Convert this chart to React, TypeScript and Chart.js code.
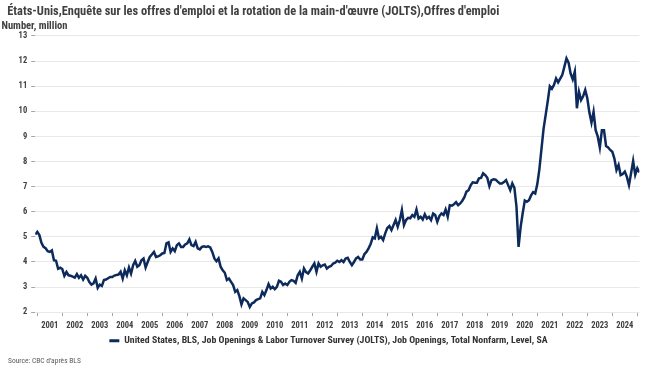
import React, { useEffect, useRef } from 'react';
import { Chart, registerables } from 'chart.js';

Chart.register(...registerables);

const FONT = "'Roboto Condensed', 'DejaVu Sans Condensed', sans-serif";

const titleText = "  États-Unis,Enquête sur les offres d'emploi et la rotation de la main-d'œuvre (JOLTS),Offres d'emploi";
const unitText = 'Number, million';
const sourceText = "Source: CBC d'après BLS";
const seriesLabel =
  'United States, BLS, Job Openings & Labor Turnover Survey (JOLTS), Job Openings, Total Nonfarm, Level, SA';

// tick labels
const yearLabels = [
  2001, 2002, 2003, 2004, 2005, 2006, 2007, 2008, 2009, 2010, 2011, 2012,
  2013, 2014, 2015, 2016, 2017, 2018, 2019, 2020, 2021, 2022, 2023, 2024,
];
const yMin = 2;
const yMax = 13;

// monthly values (millions); 2000 holds December only, 2025 holds Jan-Feb
const v2000 = [5.1];
const v2001 = [5.2, 5.07, 4.76, 4.6, 4.55, 4.43, 4.4, 4.46, 4.07, 4.05, 3.73, 3.77];
const v2002 = [3.72, 3.45, 3.6, 3.47, 3.45, 3.42, 3.38, 3.52, 3.37, 3.47, 3.3, 3.45];
const v2003 = [3.37, 3.2, 3.1, 3.15, 3.34, 2.97, 3.1, 3.05, 3.28, 3.3, 3.35, 3.4];
const v2004 = [3.4, 3.46, 3.48, 3.5, 3.61, 3.34, 3.67, 3.47, 3.78, 3.54, 3.87, 4.04];
const v2005 = [3.81, 3.87, 4.07, 4.14, 3.78, 4.0, 4.2, 4.3, 4.4, 4.2, 4.22, 4.27];
const v2006 = [4.34, 4.36, 4.74, 4.78, 4.4, 4.54, 4.43, 4.67, 4.74, 4.6, 4.6, 4.7];
const v2007 = [4.74, 4.9, 4.67, 4.63, 4.8, 4.54, 4.5, 4.6, 4.62, 4.6, 4.62, 4.58];
const v2008 = [4.4, 4.14, 4.03, 4.14, 3.81, 3.67, 3.57, 3.28, 3.34, 3.21, 3.08, 2.81];
const v2009 = [2.88, 2.64, 2.31, 2.55, 2.48, 2.41, 2.21, 2.35, 2.39, 2.48, 2.52, 2.55];
const v2010 = [2.81, 2.68, 2.88, 3.12, 2.94, 3.01, 2.92, 3.01, 3.25, 3.21, 3.08, 3.14];
const v2011 = [3.08, 3.21, 3.28, 3.25, 3.17, 3.47, 3.61, 3.34, 3.74, 3.6, 3.54, 3.67];
const v2012 = [3.81, 3.94, 3.61, 3.94, 3.81, 3.87, 3.9, 3.74, 3.81, 3.84, 3.94, 3.97];
const v2013 = [4.05, 4.0, 4.07, 4.0, 4.14, 4.17, 4.0, 3.87, 4.0, 4.14, 4.2, 4.1];
const v2014 = [4.1, 4.31, 4.4, 4.54, 4.71, 4.98, 4.94, 5.34, 4.94, 5.0, 4.87, 5.14];
const v2015 = [5.35, 5.43, 5.27, 5.47, 5.67, 5.4, 5.67, 6.07, 5.47, 5.67, 5.76, 5.74];
const v2016 = [5.87, 5.8, 6.09, 5.73, 5.8, 5.69, 5.9, 5.73, 5.8, 5.67, 5.93, 5.87];
const v2017 = [5.6, 5.83, 5.93, 5.87, 6.09, 5.8, 6.26, 6.24, 6.3, 6.38, 6.26, 6.33];
const v2018 = [6.44, 6.58, 6.8, 6.86, 7.05, 7.17, 7.16, 7.16, 7.33, 7.35, 7.53, 7.46];
const v2019 = [7.35, 7.02, 7.26, 7.29, 7.28, 7.2, 7.13, 7.13, 7.18, 7.26, 7.06, 6.86];
const v2020 = [7.13, 6.95, 6.2, 4.6, 5.4, 5.95, 6.45, 6.4, 6.46, 6.65, 6.78, 6.73];
const v2021 = [7.1, 7.7, 8.5, 9.3, 9.85, 10.4, 11.0, 10.9, 11.05, 11.31, 11.15, 11.3];
const v2022 = [11.45, 11.78, 12.11, 11.94, 11.5, 11.27, 11.58, 10.12, 10.78, 10.45, 10.6, 10.85];
const v2023 = [10.52, 9.95, 9.55, 9.98, 9.25, 9.0, 8.56, 9.25, 9.25, 8.62, 8.56, 8.46];
const v2024 = [8.39, 8.12, 7.66, 7.86, 7.46, 7.5, 7.6, 7.39, 7.06, 7.53, 8.02, 7.47];
const v2025 = [7.73, 7.57];

const byYear: [number, number[]][] = [
  [2000, v2000], [2001, v2001], [2002, v2002], [2003, v2003], [2004, v2004],
  [2005, v2005], [2006, v2006], [2007, v2007], [2008, v2008], [2009, v2009],
  [2010, v2010], [2011, v2011], [2012, v2012], [2013, v2013], [2014, v2014],
  [2015, v2015], [2016, v2016], [2017, v2017], [2018, v2018], [2019, v2019],
  [2020, v2020], [2021, v2021], [2022, v2022], [2023, v2023], [2024, v2024],
  [2025, v2025],
];

function buildPoints() {
  const pts: { x: number; y: number }[] = [];
  byYear.forEach(([year, vals], idx) => {
    const startMonth = idx === 0 ? 12 - vals.length : 0;
    vals.forEach((v, i) => {
      pts.push({ x: year + (startMonth + i) / 12, y: v });
    });
  });
  return pts;
}

const NAVY = '#0c2a5b';
const TEXT = '#404040';

const sourcePlugin = {
  id: 'sourceNote',
  afterLayout(chart: any) {
    // centre the legend a little to the right, like the original
    if (chart.legend) {
      chart.legend.left += 16;
    }
  },
  afterDraw(chart: any) {
    const ctx = chart.ctx;
    ctx.save();
    ctx.font = `7.5px ${FONT}`;
    ctx.fillStyle = '#595959';
    ctx.textBaseline = 'middle';
    ctx.textAlign = 'left';
    ctx.fillText(sourceText, 8, 361);
    ctx.restore();
  },
};

export default function App() {
  const ref = useRef<HTMLCanvasElement | null>(null);

  useEffect(() => {
    if (!ref.current) return;
    const points = buildPoints();
    const xMin = points[0].x;
    const xMax = points[points.length - 1].x;

    const chart = new Chart(ref.current, {
      type: 'line',
      data: {
        datasets: [
          {
            label: seriesLabel,
            data: points,
            borderColor: NAVY,
            backgroundColor: NAVY,
            borderWidth: 2.5,
            pointRadius: 0,
            tension: 0,
            fill: false,
          },
        ],
      },
      plugins: [sourcePlugin],
      options: {
        animation: false,
        responsive: false,
        devicePixelRatio: 1,
        layout: { padding: { left: 1.5, right: 12.6, top: 0, bottom: 16.4 } },
        font: { family: FONT },
        scales: {
          x: {
            type: 'linear',
            min: xMin,
            max: xMax,
            afterBuildTicks: (scale: any) => {
              scale.ticks = yearLabels.map((y) => ({ value: y + 0.5 }));
            },
            afterFit: (scale: any) => {
              scale.height = 19;
            },
            ticks: {
              autoSkip: false,
              maxRotation: 0,
              padding: 4.4,
              color: TEXT,
              font: { family: FONT, size: 8.5, weight: 'bold' },
              callback: (value: any) => String(Math.floor(Number(value))),
            },
            grid: {
              offset: true,
              drawOnChartArea: false,
              drawTicks: true,
              tickLength: 4,
              tickColor: '#a6a6a6',
            },
            border: { display: false },
          },
          y: {
            min: yMin,
            max: yMax,
            afterFit: (scale: any) => {
              scale.width = 33.7;
            },
            ticks: {
              stepSize: 1,
              padding: 4,
              color: TEXT,
              font: { family: FONT, size: 8.5, weight: 'bold' },
            },
            grid: {
              color: '#e8e8e8',
              lineWidth: 1,
              drawTicks: true,
              tickLength: 4,
              tickColor: '#a6a6a6',
            },
            border: { display: false },
          },
        },
        plugins: {
          title: {
            display: true,
            text: titleText,
            align: 'start',
            color: TEXT,
            font: { family: FONT, size: 12.4, weight: 'bold' },
            padding: { top: 4.1, bottom: 1.0 },
          },
          subtitle: {
            display: true,
            text: unitText,
            align: 'start',
            color: TEXT,
            font: { family: FONT, size: 10.5, weight: 'bold' },
            padding: { top: 0, bottom: 3.4 },
          },
          legend: {
            display: true,
            position: 'bottom',
            align: 'center',
            labels: {
              boxWidth: 10,
              boxHeight: 3,
              padding: 4.6,
              color: '#333333',
              font: { family: FONT, size: 9.8, weight: 'bold' },
              generateLabels: (c: any) => {
                const items = Chart.defaults.plugins.legend.labels.generateLabels(c);
                items.forEach((it: any) => {
                  it.lineWidth = 0;
                  it.fillStyle = NAVY;
                  it.strokeStyle = NAVY;
                });
                return items;
              },
            },
          },
          tooltip: { enabled: false },
        },
      },
    });

    return () => chart.destroy();
  }, []);

  return (
    <div style={{ position: 'fixed', left: 0, top: 0, width: 652, height: 372, background: '#fff' }}>
      <canvas ref={ref} width={652} height={372} style={{ display: 'block', width: 652, height: 372 }} />
    </div>
  );
}
